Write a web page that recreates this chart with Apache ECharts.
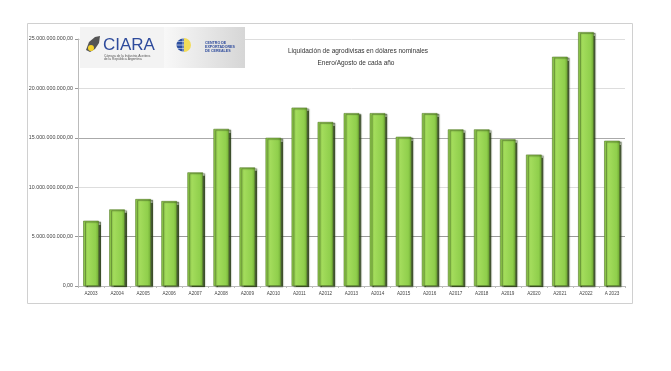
<!DOCTYPE html>
<html>
<head>
<meta charset="utf-8">
<script src="https://cdn.jsdelivr.net/npm/echarts@6/dist/echarts.min.js"></script>
<style>
html,body{margin:0;padding:0;background:#fff;}
#chart{width:671px;height:371px;}
</style>
</head>
<body>
<div id="chart"></div>
<script>
var categories = ['A2003','A2004','A2005','A2006','A2007','A2008','A2009','A2010','A2011','A2012','A2013','A2014','A2015','A2016','A2017','A2018','A2019','A2020','A2021','A2022','A 2023'];
var liquidacion = [6.6e9, 7.75e9, 8.8e9, 8.6e9, 11.5e9, 15.9e9, 12.0e9, 15.0e9, 18.05e9, 16.6e9, 17.5e9, 17.5e9, 15.1e9, 17.5e9, 15.85e9, 15.85e9, 14.85e9, 13.3e9, 23.2e9, 25.7e9, 14.7e9];
var titleLines = ['Liquidación de agrodivisas en dólares nominales', 'Enero/Agosto de cada año'];

function fmt(v){
  var s = Math.round(v).toString().replace(/\B(?=(\d{3})+(?!\d))/g, '.');
  return s + ',00';
}

var chart = echarts.init(document.getElementById('chart'));
var barColor = new echarts.graphic.LinearGradient(0,0,1,0,[
  {offset:0, color:'#8cc948'},
  {offset:0.3, color:'#a3dc5c'},
  {offset:0.8, color:'#90cf4c'},
  {offset:1, color:'#6fa834'}
]);
chart.setOption({
  animation:false,
  backgroundColor:'#fff',
  grid:{left:78, right:46, top:39, bottom:85, containLabel:false},
  xAxis:{
    type:'category',
    data:categories,
    axisLine:{lineStyle:{color:'#bbb', width:1}},
    axisTick:{show:true, alignWithLabel:false, length:2, lineStyle:{color:'#bbb'}},
    axisLabel:{fontSize:4.6, color:'#444', margin:5, fontFamily:'Liberation Sans, Arial', interval:0}
  },
  yAxis:{
    type:'value',
    min:0, max:25e9, interval:5e9,
    axisLine:{show:true, lineStyle:{color:'#bbb'}},
    axisTick:{show:true, length:3, lineStyle:{color:'#999'}},
    axisLabel:{fontSize:5.3, color:'#444', margin:5, fontFamily:'Liberation Sans, Arial', formatter:fmt},
    splitLine:{show:true, lineStyle:{color:['#ddd','#999','#ddd','#aaa','#ddd','#ddd'], width:1}}
  },
  series:[{
    type:'bar',
    data:liquidacion,
    barWidth:'60%',
    clip:false,
    itemStyle:{
      color:barColor,
      borderColor:'#557a2a',
      borderWidth:0.6,
      shadowColor:'rgba(40,60,20,0.85)',
      shadowOffsetX:2,
      shadowOffsetY:1,
      shadowBlur:1
    }
  }],
  graphic:[
    {type:'rect', z:-10, shape:{x:27.5, y:23.5, width:605, height:280}, style:{fill:'#fff', stroke:'#d0d0d0', lineWidth:1}},
    {type:'text', z:50, style:{x:358, y:51, text:titleLines[0], textAlign:'center', textVerticalAlign:'middle', font:'6.5px "Liberation Sans", Arial', fill:'#333'}},
    {type:'text', z:50, style:{x:356, y:63.5, text:titleLines[1], textAlign:'center', textVerticalAlign:'middle', font:'6.5px "Liberation Sans", Arial', fill:'#333'}},
    // CIARA logo box
    {type:'rect', z:50, shape:{x:80, y:27, width:84, height:41}, style:{fill:'#f3f3f3'}},
    {type:'polygon', z:51, shape:{points:[[86,50],[89,42],[95,37],[100,36],[99,43],[95,49],[90,52]]}, style:{fill:'#555'}},
    {type:'circle', z:52, shape:{cx:91, cy:48, r:3}, style:{fill:'#f5d32a'}},
    {type:'text', z:52, style:{x:103, y:45, text:'CIARA', textVerticalAlign:'middle', font:'17px "Liberation Sans", Arial', fill:'#2e4b9c'}},
    {type:'text', z:52, style:{x:104, y:56, text:'Cámara de la Industria Aceitera', textVerticalAlign:'middle', font:'3.3px "Liberation Sans", Arial', fill:'#555'}},
    {type:'text', z:52, style:{x:104, y:59.5, text:'de la República Argentina', textVerticalAlign:'middle', font:'3.3px "Liberation Sans", Arial', fill:'#555'}},
    // CEC logo box
    {type:'rect', z:50, shape:{x:164, y:27, width:81, height:41}, style:{fill:new echarts.graphic.LinearGradient(0,0,1,0,[{offset:0,color:'#f8f8f8'},{offset:1,color:'#d6d6d6'}])}},
    {type:'circle', z:51, shape:{cx:183, cy:45, r:6.5}, style:{fill:'#2b4ea0'}},
    {type:'line', z:52, shape:{x1:176.5, y1:45, x2:189.5, y2:45}, style:{stroke:'#fff', lineWidth:0.6}},
    {type:'line', z:52, shape:{x1:183, y1:38.5, x2:183, y2:51.5}, style:{stroke:'#fff', lineWidth:0.6}},
    {type:'line', z:52, shape:{x1:177.5, y1:41.5, x2:188.5, y2:41.5}, style:{stroke:'#fff', lineWidth:0.5}},
    {type:'line', z:52, shape:{x1:177.5, y1:48.5, x2:188.5, y2:48.5}, style:{stroke:'#fff', lineWidth:0.5}},
    {type:'sector', z:53, shape:{cx:184, cy:45, r:7, r0:0, startAngle:-Math.PI/2, endAngle:Math.PI/2}, style:{fill:'#f2dc5a'}},
    {type:'text', z:52, style:{x:205, y:42.5, text:'CENTRO DE', textVerticalAlign:'middle', font:'bold 3.6px "Liberation Sans", Arial', fill:'#2e4b9c'}},
    {type:'text', z:52, style:{x:205, y:46.5, text:'EXPORTADORES', textVerticalAlign:'middle', font:'bold 3.6px "Liberation Sans", Arial', fill:'#2e4b9c'}},
    {type:'text', z:52, style:{x:205, y:50.5, text:'DE CEREALES', textVerticalAlign:'middle', font:'bold 3.6px "Liberation Sans", Arial', fill:'#2e4b9c'}}
  ]
});
</script>
</body>
</html>
